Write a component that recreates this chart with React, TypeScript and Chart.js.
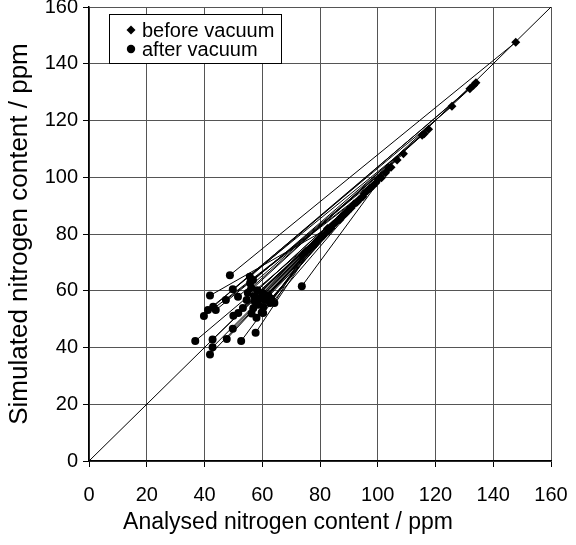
import React, { useEffect, useRef } from "react";
import { Chart, registerables } from "chart.js";

Chart.register(...registerables);

// After-vacuum points (analysed, simulated)
const afterX = [36.8, 39.8, 41.9, 41.9, 42.8, 42.8, 43.0, 43.9, 41.2, 47.4, 47.7, 48.8, 49.8, 49.8, 50.0, 51.7, 51.6, 52.7, 53.3, 54.6, 55.0, 55.8, 55.7, 56.8, 56.3, 56.9, 57.7, 58.0, 59.8, 60.3, 61.0, 62.7, 64.2, 73.7, 57.2, 58.3, 59.1, 60.2, 62.1, 57.4, 58.6, 63.1, 56.2, 60.4];
const afterY = [42.3, 51.1, 58.3, 37.5, 40.1, 42.8, 54.4, 53.2, 53.2, 56.7, 43.0, 65.5, 60.5, 46.6, 51.2, 52.2, 57.9, 42.3, 53.9, 56.7, 59.2, 62.7, 64.9, 63.8, 52.0, 53.8, 45.2, 50.5, 52.3, 52.2, 56.7, 55.7, 55.7, 61.6, 58.1, 60.2, 57.3, 59.1, 58.4, 56.2, 55.1, 57.2, 61.0, 54.3];
// Before-vacuum points (analysed, simulated)
const beforeX = [84.5, 97.2, 82.6, 88.1, 92.4, 101.3, 133.2, 104.6, 116.1, 95.3, 79.8, 147.8, 125.7, 86.9, 93.6, 99.4, 108.9, 76.3, 90.8, 102.7, 131.9, 117.6, 134.0, 106.7, 83.9, 89.5, 78.4, 81.2, 85.6, 94.8, 98.3, 77.5, 73.9, 103.8, 91.7, 100.2, 87.3, 96.4, 80.6, 75.2, 82.9, 88.8, 115.4, 92.9];
const beforeY = [83.2, 96.0, 81.9, 86.4, 90.9, 99.8, 132.4, 103.5, 115.3, 94.2, 78.2, 147.6, 125.0, 85.0, 92.1, 98.1, 108.3, 74.6, 89.2, 101.6, 131.2, 116.9, 133.3, 106.1, 82.1, 87.8, 76.9, 79.4, 84.1, 93.1, 96.9, 75.8, 72.5, 103.2, 90.6, 99.3, 86.0, 95.2, 79.1, 73.9, 81.0, 87.2, 114.8, 91.3];

const axisMin = 0;
const axisMax = 160;
const tickStep = 20;
const diagonalX = [0, 160];
const diagonalY = [0, 160];

const legendLabels = ["before vacuum", "after vacuum"];
const xTitle = "Analysed nitrogen content / ppm";
const yTitle = "Simulated nitrogen content / ppm";

const FONT = "Arial, 'Liberation Sans', sans-serif";

const overlayPlugin = {
  id: "overlay",
  afterDraw(chart: any) {
    const { ctx, chartArea, width } = chart;
    ctx.save();
    // x-axis title, centred on the canvas
    ctx.fillStyle = "#000";
    ctx.font = `23px ${FONT}`;
    ctx.textAlign = "center";
    ctx.textBaseline = "middle";
    ctx.fillText(xTitle, width / 2, chartArea.bottom + 62);

    // legend box
    const x0 = chartArea.left + 20;
    const y0 = chartArea.top + 7;
    const w = 172;
    const h = 49;
    ctx.fillStyle = "#fff";
    ctx.fillRect(x0, y0, w, h);
    ctx.strokeStyle = "#000";
    ctx.lineWidth = 1;
    ctx.strokeRect(Math.round(x0) + 0.5, Math.round(y0) + 0.5, w, h);
    ctx.fillStyle = "#000";
    const mx = x0 + 22;
    const d1 = y0 + 16;
    const r = 4.5;
    ctx.beginPath();
    ctx.moveTo(mx, d1 - r);
    ctx.lineTo(mx + r, d1);
    ctx.lineTo(mx, d1 + r);
    ctx.lineTo(mx - r, d1);
    ctx.closePath();
    ctx.fill();
    const d2 = y0 + 35;
    ctx.beginPath();
    ctx.arc(mx, d2, 4.2, 0, Math.PI * 2);
    ctx.fill();
    ctx.font = `20px ${FONT}`;
    ctx.textBaseline = "middle";
    ctx.textAlign = "left";
    ctx.fillText(legendLabels[0], x0 + 33, d1 + 1);
    ctx.fillText(legendLabels[1], x0 + 33, d2 + 1);
    ctx.restore();
  },
};

export default function App() {
  const canvasRef = useRef<HTMLCanvasElement | null>(null);

  useEffect(() => {
    document.body.style.margin = "0";
    const canvas = canvasRef.current;
    if (!canvas) return;

    const beforePts = beforeX.map((x, i) => ({ x, y: beforeY[i] }));
    const afterPts = afterX.map((x, i) => ({ x, y: afterY[i] }));

    const connectors = afterPts.map((p, i) => ({
      label: "",
      data: [p, beforePts[i]],
      showLine: true,
      borderColor: "#000",
      borderWidth: 1,
      pointRadius: 0,
      pointHoverRadius: 0,
      fill: false,
    }));

    const chart = new Chart(canvas, {
      type: "scatter",
      data: {
        datasets: [
          {
            label: legendLabels[0],
            data: beforePts,
            pointStyle: "rectRot",
            pointRadius: 4.5,
            backgroundColor: "#000",
            borderColor: "#000",
            borderWidth: 0,
            showLine: false,
          },
          {
            label: legendLabels[1],
            data: afterPts,
            pointStyle: "circle",
            pointRadius: 4,
            backgroundColor: "#000",
            borderColor: "#000",
            borderWidth: 0,
            showLine: false,
          },
          ...connectors,
          {
            label: "",
            data: diagonalX.map((x, i) => ({ x, y: diagonalY[i] })),
            showLine: true,
            borderColor: "#000",
            borderWidth: 1,
            pointRadius: 0,
            fill: false,
          },
        ] as any,
      },
      options: {
        animation: false,
        responsive: false,
        events: [],
        layout: { padding: { top: 7, right: 25, left: 0, bottom: 0 } },
        plugins: {
          legend: { display: false },
          tooltip: { enabled: false },
        },
        scales: {
          x: {
            type: "linear",
            min: axisMin,
            max: axisMax,
            ticks: {
              stepSize: tickStep,
              color: "#000",
              font: { family: FONT, size: 20 },
              padding: 16,
              maxRotation: 0,
            },
            grid: { color: "#555", lineWidth: 1, tickLength: 6, tickColor: "#000" },
            border: { color: "#000", width: 1.5 },
            title: { display: false, text: xTitle },
            afterFit: (s: any) => {
              s.height = 84;
              s.paddingLeft = 0;
              s.paddingRight = 0;
            },
          },
          y: {
            type: "linear",
            min: axisMin,
            max: axisMax,
            ticks: {
              stepSize: tickStep,
              color: "#000",
              font: { family: FONT, size: 20 },
              padding: 5,
            },
            grid: { color: "#555", lineWidth: 1, tickLength: 6, tickColor: "#000" },
            border: { color: "#000", width: 1.5 },
            title: {
              display: true,
              text: yTitle,
              color: "#000",
              font: { family: FONT, size: 26 },
              padding: { top: 4, bottom: 0 },
            },
            afterFit: (s: any) => {
              s.width = 89;
              s.paddingTop = 0;
              s.paddingBottom = 0;
            },
          },
        },
      } as any,
      plugins: [overlayPlugin],
    });

    return () => chart.destroy();
  }, []);

  return (
    <div style={{ width: 576, height: 545 }}>
      <canvas ref={canvasRef} width={576} height={545} style={{ display: "block" }} />
    </div>
  );
}
